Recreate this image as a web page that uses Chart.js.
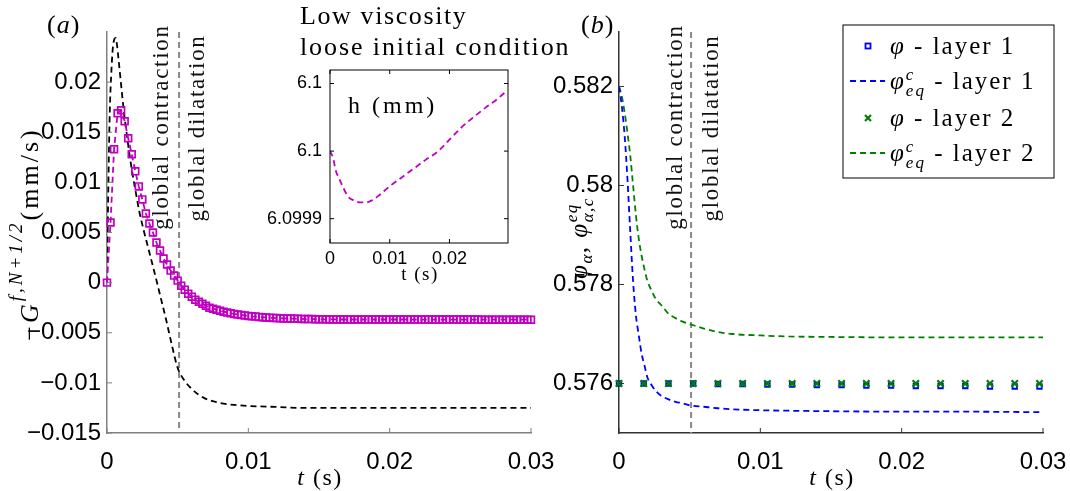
<!DOCTYPE html>
<html>
<head>
<meta charset="utf-8">
<title>chart</title>
<script src="https://cdn.jsdelivr.net/npm/chart.js"></script>
<style>
  body { margin: 0; background: #fff; }
  canvas { position: absolute; }
</style>
</head>
<body>
<canvas id="left" width="575" height="491" style="left:0;top:0"></canvas>
<canvas id="right" width="525" height="491" style="left:545px;top:0"></canvas>
<canvas id="inset" width="330" height="290" style="left:250px;top:0"></canvas>
<script>
// ---- data ----
const tSwitch = 0.0051; // contraction / dilatation switch

// (a) magenta squares, -G_{f,N+1/2}
const tMag = [
  0, 0.00025, 0.0005, 0.00075, 0.001, 0.00125, 0.0015, 0.00175, 0.002, 0.00225,
  0.0025, 0.00275, 0.003, 0.00325, 0.0035, 0.00375, 0.004, 0.00425, 0.0045, 0.00475,
  0.005, 0.00525, 0.0055, 0.00575, 0.006, 0.00625, 0.0065, 0.00675, 0.007, 0.00725,
  0.0075, 0.00775, 0.008, 0.00825, 0.0085, 0.00875, 0.009, 0.00925, 0.0095, 0.00975,
  0.01, 0.01025, 0.0105, 0.01075, 0.011, 0.01125, 0.0115, 0.01175, 0.012, 0.01225,
  0.0125, 0.01275, 0.013, 0.01325, 0.0135, 0.01375, 0.014, 0.01425, 0.0145, 0.01475,
  0.015, 0.01525, 0.0155, 0.01575, 0.016, 0.01625, 0.0165, 0.01675, 0.017, 0.01725,
  0.0175, 0.01775, 0.018, 0.01825, 0.0185, 0.01875, 0.019, 0.01925, 0.0195, 0.01975,
  0.02, 0.02025, 0.0205, 0.02075, 0.021, 0.02125, 0.0215, 0.02175, 0.022, 0.02225,
  0.0225, 0.02275, 0.023, 0.02325, 0.0235, 0.02375, 0.024, 0.02425, 0.0245, 0.02475,
  0.025, 0.02525, 0.0255, 0.02575, 0.026, 0.02625, 0.0265, 0.02675, 0.027, 0.02725,
  0.0275, 0.02775, 0.028, 0.02825, 0.0285, 0.02875, 0.029, 0.02925, 0.0295, 0.02975,
  0.03
];
const gMag = [
  0, 0.006, 0.0133, 0.0169, 0.0172, 0.0161, 0.0144, 0.0128, 0.0111, 0.0096,
  0.0083, 0.0069, 0.0059, 0.005, 0.004, 0.0032, 0.0024, 0.0018, 0.0012, 0.0007,
  0.0002, -0.0003, -0.0007, -0.0011, -0.0014, -0.0017, -0.0019, -0.0021, -0.0023, -0.0025,
  -0.0026, -0.0027, -0.0028, -0.0029, -0.00298, -0.00305, -0.00312, -0.00318, -0.00323, -0.00328,
  -0.00332, -0.00336, -0.00339, -0.00342, -0.00345, -0.00348, -0.0035, -0.00352, -0.00354, -0.00356,
  -0.00357, -0.00358, -0.00359, -0.0036, -0.00361, -0.00362, -0.00363, -0.00364, -0.00364, -0.00365,
  -0.00365, -0.00366, -0.00366, -0.00367, -0.00367, -0.00367, -0.00368, -0.00368, -0.00368, -0.00368,
  -0.00368, -0.00368, -0.00368, -0.00368, -0.00368, -0.00368, -0.00368, -0.00368, -0.00368, -0.00368,
  -0.00368, -0.00368, -0.00368, -0.00368, -0.00368, -0.00368, -0.00369, -0.00369, -0.00369, -0.00369,
  -0.00369, -0.00369, -0.00369, -0.00369, -0.00369, -0.00369, -0.00369, -0.00369, -0.00369, -0.00369,
  -0.00369, -0.00369, -0.00369, -0.00369, -0.00369, -0.00369, -0.0037, -0.0037, -0.0037, -0.0037,
  -0.0037, -0.0037, -0.0037, -0.0037, -0.0037, -0.0037, -0.0037, -0.0037, -0.0037, -0.0037,
  -0.0037
];

// (a) black dashed curve
const tBlack = [0, 0.0001, 0.0002, 0.0003, 0.0004, 0.0005, 0.0006, 0.0007, 0.0008, 0.001,
  0.0012, 0.0014, 0.0016, 0.0018, 0.002, 0.0023, 0.0026, 0.003, 0.0034, 0.0038,
  0.0042, 0.0046, 0.005, 0.0055, 0.006, 0.0065, 0.007, 0.008, 0.009, 0.01,
  0.012, 0.014, 0.017, 0.02, 0.025, 0.03];
const gBlack = [0, 0.01, 0.0172, 0.0208, 0.0232, 0.0242, 0.0244, 0.0238, 0.0225, 0.0197,
  0.017, 0.0148, 0.0127, 0.0109, 0.0093, 0.007, 0.0052, 0.003, 0.0008, -0.0015,
  -0.0038, -0.0063, -0.0085, -0.0098, -0.0106, -0.0112, -0.0116, -0.012, -0.0122, -0.0123,
  -0.0124, -0.0125, -0.0125, -0.0125, -0.0125, -0.0125];

// (b) equilibrium volume fractions
const tEq = [0, 0.0002, 0.0004, 0.0006, 0.0008, 0.001, 0.0012, 0.0014, 0.0016, 0.0018,
  0.002, 0.0023, 0.0026, 0.003, 0.0035, 0.004, 0.0045, 0.005, 0.006, 0.007,
  0.008, 0.01, 0.012, 0.015, 0.02, 0.025, 0.03];
const eqLayer1 = [0.582, 0.5816, 0.581, 0.58012, 0.57905, 0.57805, 0.57737, 0.57697, 0.5766, 0.57637,
  0.57613, 0.57597, 0.57585, 0.57575, 0.57568, 0.57563, 0.5756, 0.57556, 0.57553, 0.5755,
  0.57548, 0.57546, 0.57545, 0.57544, 0.57543, 0.57543, 0.57542];
const eqLayer2 = [0.582, 0.5818, 0.58147, 0.58106, 0.58059, 0.57999, 0.57939, 0.57892, 0.57858, 0.57831,
  0.57808, 0.57788, 0.57771, 0.57758, 0.57741, 0.57732, 0.57725, 0.5772, 0.57711, 0.57704,
  0.577, 0.57697, 0.57695, 0.57694, 0.57693, 0.57693, 0.57693];

// (b) markers
const tMk = [0, 0.00175, 0.0035, 0.00525, 0.007, 0.00875, 0.0105, 0.01225, 0.014, 0.01575,
  0.0175, 0.01925, 0.021, 0.02275, 0.0245, 0.02625, 0.028, 0.02975];
const phiLayer1 = [0.576, 0.576, 0.576, 0.576, 0.57599, 0.57599, 0.57598, 0.57598, 0.57597, 0.57597,
  0.57596, 0.57596, 0.57595, 0.57595, 0.57595, 0.57594, 0.57594, 0.57594];
const phiLayer2 = [0.576, 0.576, 0.576, 0.576, 0.576, 0.576, 0.576, 0.576, 0.576, 0.576,
  0.576, 0.576, 0.576, 0.576, 0.576, 0.576, 0.576, 0.576];

// inset: h (mm)
const tH = [0, 0.0005, 0.001, 0.0015, 0.002, 0.003, 0.004, 0.005, 0.006, 0.007,
  0.008, 0.01, 0.012, 0.014, 0.016, 0.018, 0.02, 0.022, 0.024, 0.026, 0.028, 0.0297];
const hVal = [6.1, 6.09999, 6.09997, 6.09996, 6.09995, 6.099933, 6.099927, 6.099924, 6.099924, 6.099927,
  6.099933, 6.099948, 6.099961, 6.099974, 6.099987, 6.099999, 6.100017, 6.100035, 6.10005, 6.100064,
  6.100077, 6.10009];

// ticks
const xTicks = [0, 0.01, 0.02, 0.03];
const yTicksA = [-0.015, -0.01, -0.005, 0, 0.005, 0.01, 0.015, 0.02];
const yTicksB = [0.576, 0.578, 0.58, 0.582];
const xTicksInset = [0, 0.01, 0.02];
const yTicksInset = [6.0999, 6.1, 6.1001];
const yLabelsInset = ['6.0999', '6.1', '6.1'];

// ---- helpers ----
const SANS = '"Liberation Sans", Arial, sans-serif';
const SERIF = '"Liberation Serif", "Times New Roman", serif';
const xy = (ts, vs) => ts.map((t, i) => ({ x: t, y: vs[i] }));
const fmt = v => (v < 0 ? '\u2212' : '') + String(Math.abs(Number(v.toFixed(4))));

// fixed scale box so the chart area lands where the figure has it
const fitTo = size => s => {
  if (s.isHorizontal()) s.height = size; else s.width = size;
  s.paddingLeft = s.paddingRight = s.paddingTop = s.paddingBottom = 0;
};

// parts: {t, s, i, dy} or {sup, sub, s, i, up, down}
function rich(ctx, parts, x, y, opt = {}) {
  const font = p => (p.i ? 'italic ' : '') + p.s + 'px ' + SERIF;
  ctx.save();
  ctx.translate(x, y);
  if (opt.rot) ctx.rotate(opt.rot);
  ctx.letterSpacing = (opt.ls || 0) + 'px';
  ctx.fillStyle = opt.color || '#000';
  ctx.textBaseline = 'alphabetic';
  ctx.textAlign = 'left';
  const widths = parts.map(p => {
    ctx.font = font(p);
    if (p.sup !== undefined) return Math.max(ctx.measureText(p.sup).width, ctx.measureText(p.sub).width);
    return ctx.measureText(p.t).width;
  });
  const W = widths.reduce((a, b) => a + b, 0);
  let cx = opt.align === 'center' ? -W / 2 : opt.align === 'right' ? -W : 0;
  parts.forEach((p, k) => {
    ctx.font = font(p);
    if (p.sup !== undefined) {
      ctx.fillText(p.sup, cx, -(p.up || 9));
      ctx.fillText(p.sub, cx, p.down || 6);
    } else {
      ctx.fillText(p.t, cx, p.dy || 0);
    }
    cx += widths[k];
  });
  ctx.restore();
}

function line(ctx, x1, y1, x2, y2) {
  ctx.beginPath(); ctx.moveTo(x1, y1); ctx.lineTo(x2, y2); ctx.stroke();
}

// inward tick marks (matlab style)
const inTicks = {
  id: 'inTicks',
  afterDraw(chart, args, o) {
    const { ctx, chartArea: a, scales } = chart;
    ctx.save();
    ctx.strokeStyle = o.color; ctx.lineWidth = 1;
    scales.x.ticks.forEach((t, i) => {
      const px = scales.x.getPixelForTick(i);
      line(ctx, px, a.bottom, px, a.bottom - o.len);
      if (o.box) line(ctx, px, a.top, px, a.top + o.len);
    });
    scales.y.ticks.forEach((t, i) => {
      const py = scales.y.getPixelForTick(i);
      line(ctx, a.left, py, a.left + o.len, py);
      if (o.box) line(ctx, a.right, py, a.right - o.len, py);
    });
    if (o.box) { ctx.strokeStyle = '#000'; ctx.strokeRect(a.left, a.top, a.right - a.left, a.bottom - a.top); }
    ctx.restore();
  }
};

// vertical switch line + its two labels
const switchLine = {
  id: 'switchLine',
  beforeDatasetsDraw(chart) {
    const { ctx, chartArea: a } = chart;
    const px = chart.scales.x.getPixelForValue(tSwitch);
    ctx.save();
    ctx.strokeStyle = '#888'; ctx.lineWidth = 2; ctx.setLineDash([6, 4]);
    line(ctx, px, a.top, px, a.bottom);
    ctx.restore();
  },
  afterDraw(chart, args, o) {
    const ctx = chart.ctx;
    const px = chart.scales.x.getPixelForValue(tSwitch);
    rich(ctx, [{ t: 'globlal contraction', s: 23 }], px + o.c, 127, { rot: -Math.PI / 2, align: 'center', ls: 1.7, color: '#111' });
    rich(ctx, [{ t: 'globlal dilatation', s: 23 }], px + o.d, 128, { rot: -Math.PI / 2, align: 'center', ls: 1.7, color: '#111' });
  }
};

function axis(min, max, ticks, color, o, labels) {
  return {
    type: 'linear', min: min, max: max,
    afterFit: fitTo(o.box),
    afterBuildTicks: s => { s.ticks = ticks.map(v => ({ value: v })); },
    ticks: {
      font: { family: SANS, size: o.size }, color: '#000', padding: o.p,
      maxRotation: 0, autoSkip: false,
      callback: (v, i) => labels ? labels[i] : fmt(v)
    },
    grid: { display: false, drawTicks: false },
    border: { display: color !== null, color: color, width: 1.5 }
  };
}

// ---- (a) ----
new Chart(document.getElementById('left'), {
  type: 'scatter',
  data: {
    datasets: [
      {
        data: xy(tMag, gMag), showLine: true, order: 1, clip: false,
        borderColor: '#C000C0', borderWidth: 1.8, borderDash: [6, 4],
        pointStyle: 'rect', pointRadius: 4.8, pointBorderWidth: 1.7,
        pointBorderColor: '#C000C0', pointBackgroundColor: 'rgba(0,0,0,0)'
      },
      {
        data: xy(tBlack, gBlack), showLine: true, order: 2,
        borderColor: '#000', borderWidth: 1.8, borderDash: [6, 4],
        pointRadius: 0, cubicInterpolationMode: 'monotone'
      }
    ]
  },
  options: {
    responsive: false, animation: false, devicePixelRatio: 1,
    layout: { padding: { left: 0, right: 44, top: 32, bottom: 0 } },
    scales: {
      x: axis(0, 0.03, xTicks, '#808080', { size: 24, p: 15, box: 58 }),
      y: axis(-0.015, 0.025, yTicksA, '#808080', { size: 24, p: 6, box: 107 })
    },
    plugins: {
      legend: { display: false }, tooltip: { enabled: false },
      inTicks: { color: '#808080', len: 5, box: false },
      switchLine: { c: -11, d: 25 }
    }
  },
  plugins: [inTicks, switchLine, {
    id: 'labelsA',
    afterDraw(chart) {
      const ctx = chart.ctx;
      rich(ctx, [{ t: '(', s: 26 }, { t: 'a', s: 26, i: true }, { t: ')', s: 26 }], 47, 33, { ls: 1 });
      rich(ctx, [{ t: 't', s: 24, i: true }, { t: ' (s)', s: 24 }], 320, 485, { align: 'center', ls: 1.5 });
      rich(ctx, [{ t: '\u2212', s: 26 }, { t: 'G', s: 26, i: true }, { t: 'f,N+1/2', s: 19, i: true, dy: -16 }, { t: '(mm/s)', s: 26 }],
        38, 234, { rot: -Math.PI / 2, align: 'center', ls: 3 });
    }
  }]
});

// ---- (b) ----
new Chart(document.getElementById('right'), {
  type: 'scatter',
  data: {
    datasets: [
      {
        data: xy(tMk, phiLayer2), order: 0, clip: false,
        pointStyle: 'crossRot', pointRadius: 4.5, pointBorderWidth: 2.2,
        pointBorderColor: '#008000', pointBackgroundColor: '#008000'
      },
      {
        data: xy(tMk, phiLayer1), order: 1, clip: false,
        pointStyle: 'rect', pointRadius: 3.2, pointBorderWidth: 1.8,
        pointBorderColor: '#0000FF', pointBackgroundColor: 'rgba(0,0,0,0)'
      },
      {
        data: xy(tEq, eqLayer1), showLine: true, order: 2,
        borderColor: '#0000FF', borderWidth: 1.8, borderDash: [6, 4],
        pointRadius: 0, cubicInterpolationMode: 'monotone'
      },
      {
        data: xy(tEq, eqLayer2), showLine: true, order: 3,
        borderColor: '#008000', borderWidth: 1.8, borderDash: [6, 4],
        pointRadius: 0, cubicInterpolationMode: 'monotone'
      }
    ]
  },
  options: {
    responsive: false, animation: false, devicePixelRatio: 1,
    layout: { padding: { left: 0, right: 27, top: 32, bottom: 0 } },
    scales: {
      x: axis(0, 0.03, xTicks, '#333', { size: 24, p: 15, box: 58 }),
      y: axis(0.575, 0.5831, yTicksB, '#333', { size: 24, p: 6, box: 74 })
    },
    plugins: {
      legend: { display: false }, tooltip: { enabled: false },
      inTicks: { color: '#333', len: 5, box: false },
      switchLine: { c: -9, d: 27 }
    }
  },
  plugins: [inTicks, switchLine, {
    id: 'labelsB',
    afterDraw(chart) {
      const ctx = chart.ctx;
      rich(ctx, [{ t: '(', s: 26 }, { t: 'b', s: 26, i: true }, { t: ')', s: 26 }], 36, 33, { ls: 1 });
      rich(ctx, [{ t: 't', s: 24, i: true }, { t: ' (s)', s: 24 }], 287, 485, { align: 'center', ls: 1.5 });
      rich(ctx, [{ t: '\u03c6', s: 25, i: true }, { t: '\u03b1', s: 17, i: true, dy: 5 },
        { t: ', ', s: 25 }, { t: '\u03c6', s: 25, i: true },
        { sup: 'eq', sub: '\u03b1,c', s: 17, i: true, up: 10, down: 6 }],
        42, 238, { rot: -Math.PI / 2, align: 'center', ls: 1.5 });

      // legend
      const L = 298, T = 25, R = 509, B = 178;
      ctx.save();
      ctx.fillStyle = '#fff'; ctx.fillRect(L, T, R - L, B - T);
      ctx.strokeStyle = '#000'; ctx.lineWidth = 1; ctx.strokeRect(L, T, R - L, B - T);
      const rows = [46, 81, 118, 153];
      ctx.lineWidth = 1.8; ctx.strokeStyle = '#0000FF';
      ctx.strokeRect(320.5, rows[0] - 2.5, 5, 5);
      ctx.strokeStyle = '#008000'; ctx.lineWidth = 2.2;
      line(ctx, 320, rows[2] - 3, 326, rows[2] + 3); line(ctx, 320, rows[2] + 3, 326, rows[2] - 3);
      ctx.setLineDash([6, 4]); ctx.lineWidth = 1.8;
      ctx.strokeStyle = '#0000FF'; line(ctx, 305, rows[1], 340, rows[1]);
      ctx.strokeStyle = '#008000'; line(ctx, 305, rows[3], 340, rows[3]);
      ctx.restore();
      const lab = n => ({ t: ' - layer ' + n, s: 25 });
      const phi = { t: '\u03c6', s: 25, i: true };
      const ceq = { sup: 'c', sub: 'eq', s: 17, i: true, up: 9, down: 7 };
      rich(ctx, [phi, lab(1)], 345, rows[0] + 8, { ls: 2 });
      rich(ctx, [phi, ceq, lab(1)], 345, rows[1] + 8, { ls: 2 });
      rich(ctx, [phi, lab(2)], 345, rows[2] + 8, { ls: 2 });
      rich(ctx, [phi, ceq, lab(2)], 345, rows[3] + 8, { ls: 2 });
    }
  }]
});

// ---- inset ----
new Chart(document.getElementById('inset'), {
  type: 'scatter',
  data: {
    datasets: [{
      data: xy(tH, hVal), showLine: true,
      borderColor: '#C000C0', borderWidth: 1.8, borderDash: [6, 4],
      pointRadius: 0, cubicInterpolationMode: 'monotone'
    }]
  },
  options: {
    responsive: false, animation: false, devicePixelRatio: 1,
    layout: { padding: { left: 0, right: 72, top: 70, bottom: 0 } },
    scales: {
      x: axis(0, 0.0298, xTicksInset, null, { size: 18, p: 5, box: 47 }),
      y: axis(6.099864, 6.10012, yTicksInset, null, { size: 18, p: 8, box: 80 }, yLabelsInset)
    },
    plugins: {
      legend: { display: false }, tooltip: { enabled: false },
      inTicks: { color: '#000', len: 4, box: true }
    }
  },
  plugins: [inTicks, {
    id: 'labelsInset',
    afterDraw(chart) {
      const ctx = chart.ctx;
      rich(ctx, [{ t: 'Low viscosity', s: 26 }], 50, 24, { ls: 1.6 });
      rich(ctx, [{ t: 'loose initial condition', s: 26 }], 50, 55, { ls: 1.9 });
      rich(ctx, [{ t: 'h (mm)', s: 24 }], 98, 113, { ls: 3 });
      rich(ctx, [{ t: 't (s)', s: 19 }], 170, 280, { align: 'center', ls: 1.5 });
    }
  }]
});
</script>
</body>
</html>
